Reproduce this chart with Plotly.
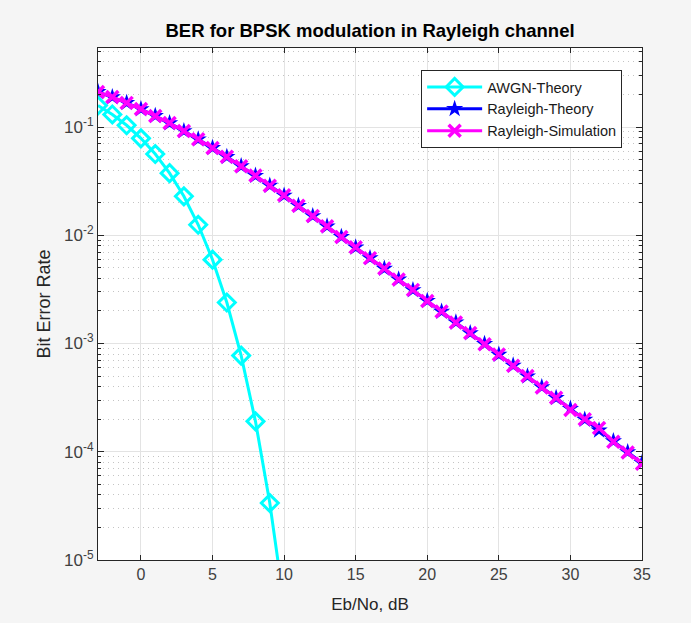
import plotly.graph_objects as go

# ---- data ----
awgn_x = list(range(-3, 11))
awgn_ber = [0.158, 0.1306, 0.1038, 0.0786, 0.0563, 0.0375, 0.0229, 0.0125,
            0.00595, 0.00239, 7.73e-4, 1.91e-4, 3.36e-5, 3.87e-6]

ray_x = list(range(-3, 36))
ray_theory = [0.2111, 0.1890, 0.1673, 0.1464, 0.1267, 0.1085, 0.0919, 0.0771,
              0.0642, 0.0530, 0.0435, 0.0355, 0.0288, 0.0233, 0.01876, 0.01507,
              0.01208, 0.009666, 0.007723, 0.006164, 0.004915, 0.003916,
              0.003118, 0.002481, 0.001974, 0.00157, 0.001248, 0.000992,
              0.000789, 0.000627, 0.000498, 0.000396, 0.0003144, 0.0002498,
              0.0001984, 0.0001577, 0.0001253, 0.0000995, 0.0000790]
ray_sim = [0.2108, 0.1893, 0.1671, 0.1466, 0.1265, 0.1087, 0.0918, 0.0772,
           0.0641, 0.0531, 0.0434, 0.0356, 0.0287, 0.0234, 0.0187, 0.01505,
           0.01210, 0.00965, 0.00774, 0.00615, 0.00493, 0.00390, 0.00313,
           0.00247, 0.00198, 0.00156, 0.00125, 0.000985, 0.000792, 0.000622,
           0.000502, 0.000392, 0.000316, 0.000243, 0.000200, 0.000166,
           0.000124, 0.0000985, 0.0000775]

x_ticks = [0, 5, 10, 15, 20, 25, 30, 35]
y_ticks = [1e-5, 1e-4, 1e-3, 1e-2, 1e-1]
y_ticktext = ["10<sup>-5</sup>", "10<sup>-4</sup>", "10<sup>-3</sup>",
              "10<sup>-2</sup>", "10<sup>-1</sup>"]
y_minor = [m * 10.0 ** e for e in range(-5, 0) for m in range(2, 10)]

AX = "#262626"
FONT = "Liberation Sans, Arial, sans-serif"

fig = go.Figure()
fig.add_trace(go.Scatter(
    x=awgn_x, y=awgn_ber, name="AWGN-Theory", mode="lines+markers",
    line=dict(color="#00ffff", width=3),
    marker=dict(symbol="diamond-open", size=13, color="#00ffff",
                line=dict(width=3, color="#00ffff"))))
fig.add_trace(go.Scatter(
    x=ray_x, y=ray_theory, name="Rayleigh-Theory", mode="lines+markers",
    line=dict(color="#0000ff", width=3),
    marker=dict(symbol="star", size=13, color="#0000ff")))
fig.add_trace(go.Scatter(
    x=ray_x, y=ray_sim, name="Rayleigh-Simulation", mode="lines+markers",
    line=dict(color="#ff00ff", width=3),
    marker=dict(symbol="x-thin-open", size=12, color="#ff00ff",
                line=dict(width=3.5, color="#ff00ff"))))

fig.update_layout(
    width=691, height=623,
    margin=dict(l=98, r=49, t=48, b=63),
    paper_bgcolor="#f5f5f5", plot_bgcolor="white",
    font=dict(family=FONT, color=AX, size=15),
    title=dict(text="<b>BER for BPSK modulation in Rayleigh channel</b>",
               x=0.5355, xanchor="center", y=0.951, yanchor="middle",
               font=dict(size=18.5, color="#000000", family=FONT)),
    showlegend=True,
    legend=dict(x=0.594, y=0.957, xanchor="left", yanchor="top",
                bgcolor="white", bordercolor="#262626", borderwidth=1,
                font=dict(size=14.5, color="#1a1a1a", family=FONT),
                itemwidth=55, tracegroupgap=0),
)
fig.update_xaxes(
    range=[-3, 35], tickvals=x_ticks, ticks="inside", ticklen=5,
    tickcolor=AX, showline=True, linecolor=AX, linewidth=1, mirror="ticks",
    showgrid=True, gridcolor="#e3e3e3", gridwidth=1, zeroline=False,
    tickfont=dict(size=16, color="#404040"),
    title=dict(text="Eb/No, dB", font=dict(size=17, color="#262626"), standoff=15),
)
fig.update_yaxes(
    type="log", range=[-5, -0.27], tickvals=y_ticks, ticktext=y_ticktext,
    ticks="inside", ticklen=6, tickcolor=AX, showline=True, linecolor=AX,
    linewidth=1, mirror="allticks", showgrid=True, gridcolor="#e3e3e3",
    zeroline=False, tickfont=dict(size=17, color="#404040"),
    minor=dict(tickvals=y_minor, ticks="inside", ticklen=3, tickcolor=AX,
               showgrid=True, gridcolor="#c4c4c4", griddash="1px,4px", gridwidth=1),
    title=dict(text="Bit Error Rate", font=dict(size=18, color="#262626"), standoff=8),
)

fig.write_html("out.html")
